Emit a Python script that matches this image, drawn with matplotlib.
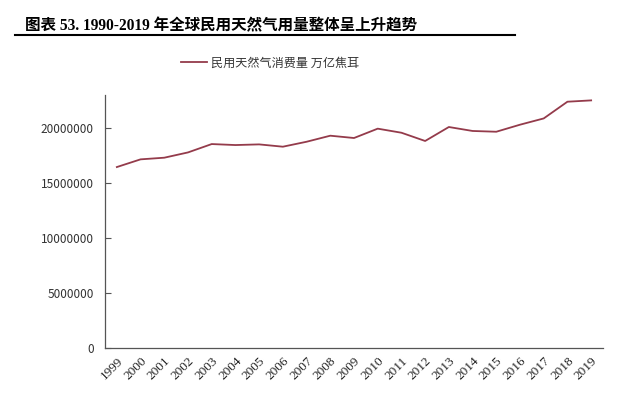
import matplotlib
matplotlib.use("Agg")
import matplotlib.pyplot as plt
from matplotlib.lines import Line2D

plt.rcParams['font.family'] = ['Noto Sans CJK SC', 'DejaVu Sans']

years = [str(y) for y in range(1999, 2020)]
consumption = [16450000, 17150000, 17300000, 17780000, 18540000, 18450000, 18510000,
               18300000, 18750000, 19300000, 19090000, 19940000, 19570000, 18820000,
               20090000, 19730000, 19660000, 20300000, 20870000, 22390000, 22510000]
yticks = [0, 5000000, 10000000, 15000000, 20000000]
series_name = "民用天然气消费量 万亿焦耳"
title = "图表 53. 1990-2019 年全球民用天然气用量整体呈上升趋势"

fig = plt.figure(figsize=(6.4, 3.99), dpi=100)
ax = fig.add_axes([105/640, 1-348/399, (603-105)/640, (348-95)/399])

x = list(range(len(years)))
ax.plot(x, consumption, color='#943B4B', lw=1.3)
ax.set_xlim(-0.5, len(years) - 0.5)
ax.set_ylim(0, 23000000)
ax.set_yticks(yticks)
ax.set_yticklabels([str(v) for v in yticks], fontsize=8.5, color='#333333')
ax.set_xticks(x)
ax.set_xticklabels(years, rotation=45, ha='right', va='top', fontsize=9.5,
                   family='Liberation Serif', rotation_mode='anchor', color='#222222')
ax.tick_params(axis='y', direction='in', length=4, color='#555555', pad=8)
ax.tick_params(axis='x', length=0, pad=5)
for s in ['top', 'right']:
    ax.spines[s].set_visible(False)
for s in ['left', 'bottom']:
    ax.spines[s].set_color('#555555')
    ax.spines[s].set_linewidth(0.9)

fig.text(25/640, 1-30/399, title, fontsize=11.2, fontweight='bold',
         family=['Liberation Serif', 'Noto Sans CJK SC'], va='baseline', ha='left')
fig.add_artist(Line2D([15/640, 515/640], [1-35/399, 1-35/399], color='black', lw=1.5))

leg = ax.legend([Line2D([], [], color='#943B4B', lw=1.3)], [series_name],
                loc='center', bbox_to_anchor=(270/640, 1-63/399),
                bbox_transform=fig.transFigure, frameon=False, fontsize=8.7,
                handlelength=2.2, handletextpad=0.3)
for t in leg.get_texts():
    t.set_color('#333333')

fig.savefig('out.png', dpi=100)
